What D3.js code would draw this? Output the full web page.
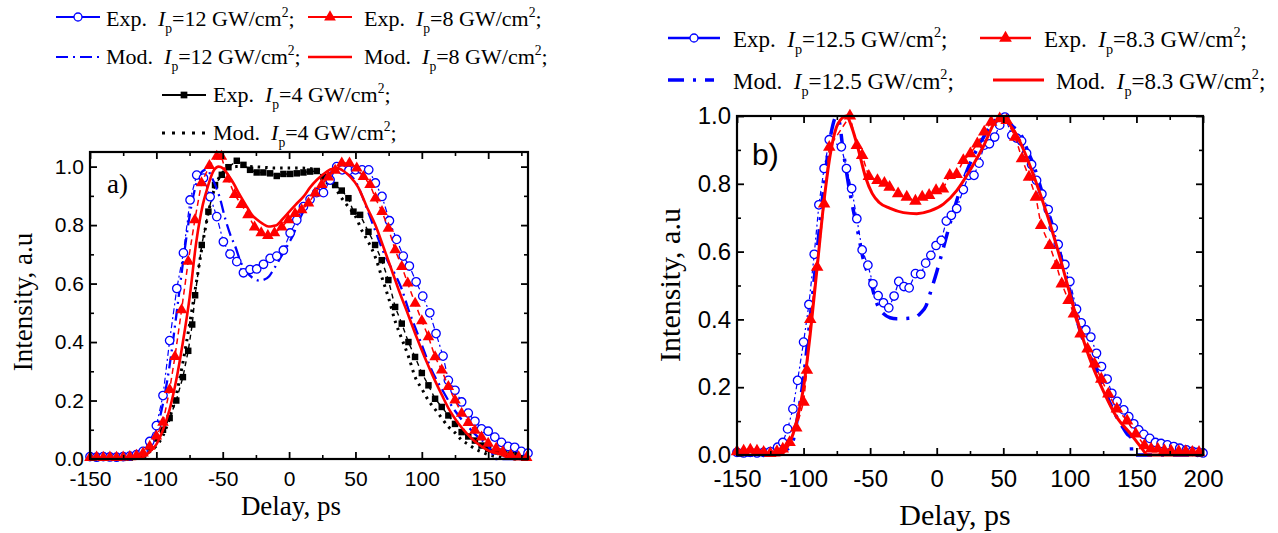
<!DOCTYPE html>
<html><head><meta charset="utf-8">
<script src="https://cdn.jsdelivr.net/npm/d3@7"></script>
<style>body{margin:0;background:#fff}text{white-space:pre}</style>
</head><body><svg id="c" width="1278" height="533"></svg>
<script>
// ---------- data: panel a ----------
const aXTicks = [-150,-100,-50,0,50,100,150];
const aXMinor = [-125,-75,-25,25,75,125,175];
const aYTicks = [0,0.2,0.4,0.6,0.8,1.0];
const aYMinor = [0.1,0.3,0.5,0.7,0.9];
const aExp12 = [[-150,.008],[-145,.006],[-140,.008],[-135,.007],[-130,.006],[-125,.008],[-120,.01],[-115,.015],[-110,.026],[-105,.06],[-100,.114],[-95,.217],[-90,.405],[-84.6,.583],[-79.6,.705],[-74.6,.886],[-69.6,.971],[-64.5,.961],[-59.5,.897],[-54.5,.829],[-49.5,.743],[-44.5,.701],[-39.4,.675],[-34.4,.637],[-29.4,.648],[-24.4,.65],[-19.3,.666],[-14.3,.686],[-9.3,.694],[-4.3,.714],[0.8,.773],[5.8,.817],[10.8,.863],[15.8,.888],[20.8,.911],[25.9,.911],[30.9,.954],[35.9,1.0],[40,.989],[45,.987],[50,.989],[55,.989],[60,.989],[65,.944],[70,.898],[75.6,.815],[81,.751],[86,.694],[90.6,.66],[95.7,.606],[100.7,.557],[106,.5],[110.7,.429],[116,.352],[120,.269],[125,.235],[130,.195],[135,.157],[140,.129],[145,.103],[150,.095],[155,.075],[160,.057],[165,.043],[170,.04],[175,.026],[180,.02]];
const aMod12 = [[-150,0],[-120,0],[-115,.01],[-110,.025],[-105,.05],[-100,.1],[-95,.19],[-90,.32],[-85,.49],[-80,.67],[-75,.83],[-70,.94],[-65,.985],[-62,.99],[-58,.96],[-55,.93],[-52,.89],[-48,.82],[-44.5,.77],[-40,.72],[-37,.68],[-32,.64],[-27,.618],[-22,.61],[-19.6,.612],[-15,.625],[-12,.646],[-5,.7],[0,.74],[3,.765],[6,.8],[10,.84],[15,.885],[21,.92],[25,.95],[30,.975],[36,.99],[40,.99],[45,.975],[50,.95],[55,.9],[60,.84],[65,.78],[70,.72],[75,.67],[80,.63],[85,.58],[90,.51],[95,.45],[100,.39],[105,.33],[110,.28],[115,.24],[120,.2],[125,.165],[130,.135],[135,.11],[140,.085],[145,.065],[150,.045],[153,.02],[155,0],[180,0]];
const aExp8 = [[-150,.005],[-145,.006],[-140,.005],[-135,.006],[-130,.005],[-125,.006],[-120,.008],[-115,.012],[-110,.02],[-105,.043],[-100,.078],[-95,.125],[-90,.237],[-86,.35],[-81,.51],[-76,.676],[-71,.818],[-66,.944],[-60,1.003],[-54.5,1.035],[-51,1.035],[-46,.957],[-41,.904],[-36,.87],[-31,.835],[-26,.793],[-21,.773],[-16,.764],[-11,.773],[-5.5,.793],[-0.5,.818],[4.5,.839],[9.5,.852],[14.6,.875],[19.6,.909],[24.6,.938],[29.6,.964],[34.7,.987],[39.7,1.012],[45.5,1.012],[51,.995],[56,.966],[61,.938],[65,.892],[70,.846],[74.8,.789],[79.9,.715],[84.9,.658],[89.4,.601],[95,.532],[100,.472],[105,.418],[110,.349],[115,.304],[120,.247],[125,.201],[130,.156],[135,.124],[140,.098],[145,.075],[150,.053],[156,.036],[161,.024],[167,.013],[173,.007],[179,.005]];
const aMod8 = [[-150,0],[-120,0],[-112,.003],[-105,.025],[-100,.05],[-95,.1],[-90,.17],[-85,.27],[-80,.4],[-75,.55],[-70,.74],[-65,.87],[-62,.92],[-57,.985],[-53,1.0],[-50,.995],[-45,.965],[-42,.944],[-38,.91],[-32,.864],[-28,.835],[-24,.818],[-20,.805],[-15.6,.795],[-12,.797],[-9,.801],[-5,.82],[0,.845],[5,.87],[11,.898],[16,.93],[21,.955],[26,.975],[31,.99],[36,.995],[41,.985],[46,.966],[52,.93],[58.5,.863],[65,.8],[71,.726],[77,.65],[83.6,.566],[90,.49],[96,.417],[102,.35],[108.7,.28],[115,.22],[121,.166],[127,.125],[134,.087],[140,.06],[146,.04],[152,.025],[159,.017],[165,.005],[170,0],[180,0]];
const aExp4 = [[-150,.005],[-145,.004],[-140,.005],[-135,.004],[-130,.005],[-125,.004],[-120,.005],[-115,.008],[-110,.015],[-105,.04],[-100,.07],[-95,.1],[-90,.14],[-85,.2],[-80,.28],[-76,.37],[-73,.46],[-70.8,.56],[-65.8,.732],[-60.8,.846],[-55.8,.937],[-50.7,.972],[-45.7,.998],[-39.4,1.02],[-34.4,1.006],[-29.4,.989],[-24.4,.98],[-19.4,.98],[-14.3,.977],[-9.3,.968],[-4.3,.975],[0.8,.975],[5.8,.977],[10.8,.98],[15.8,.983],[20.8,.985],[25.9,.964],[30,.95],[34.7,.937],[39.7,.918],[44.7,.892],[48.5,.846],[53.5,.835],[59.8,.777],[64.8,.732],[69.8,.68],[74.8,.612],[79.9,.52],[84.9,.463],[89.9,.4],[94.9,.349],[100,.294],[105,.252],[110,.206],[115,.178],[120,.149],[125,.12],[130,.092],[135,.077],[140,.063],[145,.046],[150,.035],[157,.026],[162,.02],[167,.015],[172,.013],[177,.012]];
const aMod4 = [[-150,0],[-120,0],[-110,.01],[-105,.025],[-100,.045],[-95,.08],[-90,.14],[-85,.22],[-80,.33],[-75,.46],[-70,.6],[-65,.74],[-60,.86],[-55,.94],[-50,.98],[-45,.995],[-40,1.0],[-30,1.0],[-20,.998],[-10,.995],[0,.995],[10,.995],[20,.99],[25,.98],[30,.96],[35,.925],[40,.89],[45,.86],[50,.83],[55,.78],[60,.74],[65,.69],[70,.62],[75,.55],[80,.47],[85,.41],[90,.35],[95,.28],[100,.24],[105,.2],[110,.17],[115,.14],[120,.11],[125,.09],[130,.065],[135,.05],[140,.035],[145,.024],[150,.015],[160,.005],[170,0],[180,0]];

// ---------- data: panel b ----------
const bXTicks = [-150,-100,-50,0,50,100,150,200];
const bXMinor = [-125,-75,-25,25,75,125,175];
const bYTicks = [0,0.2,0.4,0.6,0.8,1.0];
const bYMinor = [0.1,0.3,0.5,0.7,0.9];
const bExp12 = [[-150,.008],[-145,.006],[-140,.008],[-135,.006],[-130,.008],[-125,.01],[-119.5,.023],[-115.6,.037],[-112,.077],[-108,.136],[-104.5,.22],[-100,.333],[-96,.444],[-92,.592],[-88.5,.738],[-84.6,.845],[-80.7,.93],[-71.6,.909],[-67.8,.845],[-63.9,.786],[-60,.697],[-56,.605],[-51.7,.56],[-47.9,.505],[-44,.47],[-40,.449],[-36,.434],[-32,.469],[-28.5,.512],[-24.6,.497],[-20.7,.493],[-16,.535],[-12,.533],[-8.3,.566],[-4.4,.589],[-0.5,.618],[3.4,.633],[7.2,.69],[11,.707],[15,.727],[20,.783],[24,.825],[28,.825],[31.8,.861],[35.7,.914],[39.6,.918],[43.5,.938],[47.3,.973],[51.2,.997],[56.4,.943],[60,.935],[63.75,.926],[67.5,.89],[71.25,.857],[75,.81],[79,.77],[83.75,.724],[87.5,.67],[91.25,.621],[96.25,.562],[100,.512],[105,.43],[108.5,.39],[112,.369],[115.75,.348],[120,.3],[123.75,.261],[128,.224],[131.5,.182],[135.5,.158],[140.5,.133],[144.25,.113],[148,.092],[151.75,.074],[155.5,.061],[160,.049],[164.25,.037],[168.5,.034],[173.25,.03],[178,.025],[182.5,.02],[187.5,.015],[192,.011],[196,.008],[200,.006]];
const bMod12 = [[-150,0],[-130,0],[-120,.005],[-115,.012],[-110.5,.023],[-108,.04],[-105,.1],[-100,.229],[-95,.406],[-89.8,.603],[-84.6,.8],[-79.4,.948],[-75.5,.997],[-73,.98],[-71,.92],[-68,.84],[-65,.77],[-62,.71],[-60,.673],[-55,.575],[-50,.516],[-45,.447],[-40,.417],[-35,.405],[-30,.402],[-22.5,.403],[-17,.405],[-12.5,.417],[-8,.44],[-5,.476],[0,.54],[2.5,.575],[10,.683],[17.5,.781],[25,.86],[32.6,.919],[40,.968],[47.6,.997],[52,.99],[57,.97],[62.9,.948],[68,.9],[73.2,.85],[78,.79],[83.5,.721],[89,.65],[94,.574],[99,.5],[104.2,.416],[109,.35],[114.6,.298],[120,.25],[125,.2],[130,.155],[135.3,.111],[140,.08],[143,.062],[146,.05],[146.5,0],[150,0],[200,0]];
const bExp8 = [[-150,.01],[-145,.012],[-140,.015],[-135,.012],[-130,.008],[-125,.005],[-120,.01],[-115.6,.018],[-110.5,.037],[-105.5,.08],[-100,.156],[-97.5,.25],[-95,.40],[-89.8,.554],[-84.6,.741],[-80.7,.908],[-65.2,1.0],[-60,.913],[-56,.884],[-51,.822],[-44.5,.81],[-39.3,.802],[-35.4,.79],[-29,.771],[-22.5,.761],[-16,.749],[-10.9,.761],[-5.7,.766],[-0.5,.78],[4.7,.785],[9.8,.825],[15,.828],[20,.869],[25.3,.889],[30.5,.918],[35.7,.953],[40.9,.982],[47.3,.992],[52.5,.987],[59,.938],[64,.874],[69.3,.82],[74.5,.761],[78.4,.677],[84.8,.618],[90,.559],[93.9,.505],[99,.456],[103,.416],[108,.357],[113.3,.313],[118.5,.269],[123.6,.224],[128.9,.18],[135.3,.136],[143,.101],[149.5,.062],[156,.028],[161,.018],[166,.018],[171,.013],[176,.012],[181.8,.01],[187,.01],[192,.008],[197,.008]];
const bMod8 = [[-150,.005],[-145,.012],[-140,.015],[-135,.012],[-130,.005],[-125,0],[-118,0],[-115.6,.005],[-112,.025],[-107.9,.062],[-104,.12],[-100,.2],[-95,.357],[-89.8,.554],[-84.6,.751],[-79.4,.899],[-74.2,.977],[-67.8,1.0],[-63.9,.968],[-58.7,.899],[-53.5,.82],[-48.4,.771],[-43.2,.745],[-35.4,.728],[-25,.715],[-15,.712],[-5,.72],[5,.74],[15,.78],[25,.84],[35,.91],[44.7,.985],[50,.992],[57.7,.958],[65.4,.899],[73.2,.82],[83.5,.702],[93.9,.564],[104.2,.416],[114.6,.288],[125,.19],[135.3,.111],[145.7,.062],[153.4,.023],[158.6,0],[200,0]];

// ---------- drawing ----------
const svg = d3.select('#c');
const BLUE = '#0000ff', RED = '#ff0000', BLACK = '#000';
const SERIF = '"Liberation Serif","Times New Roman",serif';
const SANS = '"Liberation Sans",Arial,sans-serif';

function panel(cfg) {
  const x = d3.scaleLinear().domain(cfg.xDomain).range([cfg.left, cfg.right]);
  const y = d3.scaleLinear().domain(cfg.yDomain).range([cfg.bottom, cfg.top]);
  const g = svg.append('g');
  const fmtY = d3.format('.1f');
  const axes = [
    [d3.axisBottom(x), cfg.bottom, 'x', cfg.xTicks, cfg.xMinor, true, d => d, cfg.padX],
    [d3.axisTop(x), cfg.top, 'x', cfg.xTicks, cfg.xMinor, false, null, 3],
    [d3.axisLeft(y), cfg.left, 'y', cfg.yTicks, cfg.yMinor, true, fmtY, cfg.padY],
    [d3.axisRight(y), cfg.right, 'y', cfg.yTicks, cfg.yMinor, false, null, 3]
  ];
  const series = g.append('g');
  axes.forEach(([ax, pos, dim, maj, min, lab, fmt, pad]) => {
    const tr = dim === 'x' ? `translate(0,${pos})` : `translate(${pos},0)`;
    const gMin = g.append('g').attr('transform', tr)
      .call(ax.tickValues(min).tickSize(-4).tickFormat(''));
    gMin.select('.domain').remove();
    gMin.selectAll('line').attr('stroke-width', 1.6);
    const gMaj = g.append('g').attr('transform', tr)
      .call(ax.tickValues(maj).tickSize(-7).tickPadding(pad).tickFormat(lab ? fmt : ''));
    gMaj.select('.domain').remove();
    gMaj.selectAll('line').attr('stroke-width', 1.8);
    gMaj.selectAll('text').attr('font-family', SANS).attr('font-size', cfg.tickFont).attr('fill', '#000');
  });
  g.append('rect').attr('x', cfg.left).attr('y', cfg.top)
    .attr('width', cfg.right - cfg.left).attr('height', cfg.bottom - cfg.top)
    .attr('fill', 'none').attr('stroke', '#000').attr('stroke-width', 2.2);
  return {x, y, g: series};
}

function drawLine(p, data, color, width, dash, smooth) {
  const line = d3.line().x(d => p.x(d[0])).y(d => p.y(d[1]))
    .curve(smooth ? d3.curveMonotoneX : d3.curveLinear);
  p.g.append('path').datum(data).attr('d', line).attr('fill', 'none')
    .attr('stroke', color).attr('stroke-width', width)
    .attr('stroke-dasharray', dash || null).attr('stroke-linejoin', 'round');
}
function drawMarks(p, data, kind, color, size) {
  const sym = d3.symbol().type(kind === 'circle' ? d3.symbolCircle : kind === 'tri' ? d3.symbolTriangle : d3.symbolSquare).size(size);
  p.g.append('g').selectAll('path').data(data).join('path')
    .attr('transform', d => `translate(${p.x(d[0])},${p.y(d[1])})`)
    .attr('d', sym)
    .attr('fill', kind === 'circle' ? '#fff' : color)
    .attr('stroke', color).attr('stroke-width', kind === 'circle' ? 1.3 : 0);
}

// panel a
const pa = panel({left: 90, right: 528, top: 152, bottom: 459, xDomain: [-150, 180], yDomain: [0, 1.05],
  xTicks: aXTicks, xMinor: aXMinor, yTicks: aYTicks, yMinor: aYMinor, tickFont: 21, padX: 12, padY: 6});
drawLine(pa, aMod4, BLACK, 3, '2.5,5', true);
drawLine(pa, aExp4, BLACK, 1.4, '5,4', false);
drawMarks(pa, aExp4, 'sq', BLACK, 42);
drawLine(pa, aMod12, BLUE, 2.3, '12,5,2,5', true);
drawLine(pa, aExp12, BLUE, 1.2, '6,3,2,3', false);
drawMarks(pa, aExp12, 'circle', BLUE, 56);
drawLine(pa, aExp8, RED, 1.5, '6,4', false);
drawMarks(pa, aExp8, 'tri', RED, 58);
drawLine(pa, aMod8, RED, 2.6, null, true);

// panel b
const pb = panel({left: 737, right: 1203, top: 116, bottom: 455, xDomain: [-150, 200], yDomain: [0, 1],
  xTicks: bXTicks, xMinor: bXMinor, yTicks: bYTicks, yMinor: bYMinor, tickFont: 24, padX: 15, padY: 6});
drawLine(pb, bMod12, BLUE, 3.5, '16,9,3,9', true);
drawLine(pb, bExp12, BLUE, 1.2, '5,3,2,3', false);
drawMarks(pb, bExp12, 'circle', BLUE, 56);
drawLine(pb, bExp8, RED, 1.5, '6,4', false);
drawMarks(pb, bExp8, 'tri', RED, 68);
drawLine(pb, bMod8, RED, 3, null, true);

// axis titles and panel labels
function txt(x, y, s, font, size, rot, anchor) {
  const t = svg.append('text').attr('x', x).attr('y', y).attr('font-family', font)
    .attr('font-size', size).attr('text-anchor', anchor || 'middle').attr('fill', '#000').text(s);
  if (rot) t.attr('transform', `rotate(${rot},${x},${y})`);
  return t;
}
txt(32, 302, 'Intensity, a.u', SERIF, 27, -90);
txt(291, 515, 'Delay, ps', SERIF, 27);
txt(680, 285, 'Intensity, a.u', SERIF, 30, -90);
txt(955, 525, 'Delay, ps', SERIF, 30);
txt(107, 193, 'a)', SERIF, 27, 0, 'start');
txt(752, 165, 'b)', SANS, 30, 0, 'start');

// legends
function legText(x, y, prefix, val, fs) {
  const t = svg.append('text').attr('x', x).attr('y', y).attr('font-family', SERIF)
    .attr('font-size', fs).attr('fill', '#000');
  t.append('tspan').text(prefix + '  ');
  t.append('tspan').attr('font-style', 'italic').text('I');
  t.append('tspan').attr('font-size', fs * 0.62).attr('dy', fs * 0.32).text('p');
  t.append('tspan').attr('dy', -fs * 0.32).text('=' + val + ' GW/cm');
  t.append('tspan').attr('font-size', fs * 0.62).attr('dy', -fs * 0.42).text('2');
  t.append('tspan').attr('dy', fs * 0.42).text(';');
}
function legEntry(x1, x2, y, color, width, dash, mark, msize, tx, ty, prefix, val, fs) {
  svg.append('line').attr('x1', x1).attr('x2', x2).attr('y1', y).attr('y2', y)
    .attr('stroke', color).attr('stroke-width', width).attr('stroke-dasharray', dash || null);
  if (mark) {
    const sym = d3.symbol().type(mark === 'circle' ? d3.symbolCircle : mark === 'tri' ? d3.symbolTriangle : d3.symbolSquare).size(msize);
    svg.append('path').attr('d', sym).attr('transform', `translate(${(x1 + x2) / 2},${y})`)
      .attr('fill', mark === 'circle' ? '#fff' : color).attr('stroke', color)
      .attr('stroke-width', mark === 'circle' ? 1.3 : 0);
  }
  legText(tx, ty, prefix, val, fs);
}
// legend a
legEntry(56, 100, 17, BLUE, 2.2, null, 'circle', 50, 106, 26, 'Exp.', '12', 22);
legEntry(308, 352, 17, RED, 2.2, null, 'tri', 60, 364, 26, 'Exp.', '8', 22);
legEntry(56, 100, 57, BLUE, 2.2, '12,5,2,5', null, 0, 106, 64, 'Mod.', '12', 22);
legEntry(308, 352, 57, RED, 2.6, null, null, 0, 364, 64, 'Mod.', '8', 22);
legEntry(162, 206, 95, BLACK, 2.2, null, 'sq', 45, 213, 102, 'Exp.', '4', 22);
legEntry(162, 206, 133, BLACK, 3, '3,7', null, 0, 213, 140, 'Mod.', '4', 22);
// legend b
legEntry(668, 720, 38, BLUE, 2.5, null, 'circle', 50, 733, 47, 'Exp.', '12.5', 23);
legEntry(980, 1031, 38, RED, 2.5, null, 'tri', 70, 1044, 47, 'Exp.', '8.3', 23);
legEntry(668, 714, 80, BLUE, 3.5, '16,9,3,9', null, 0, 733, 89, 'Mod.', '12.5', 23);
legEntry(993, 1044, 80, RED, 3, null, null, 0, 1056, 89, 'Mod.', '8.3', 23);
</script></body></html>
